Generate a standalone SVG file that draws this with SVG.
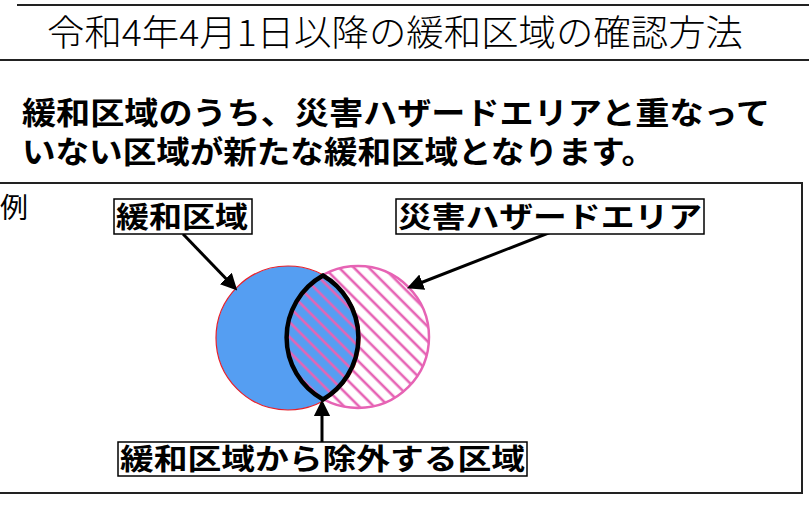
<svg xmlns="http://www.w3.org/2000/svg" width="809" height="509" viewBox="0 0 809 509">
<style>
.jp{font-family:"Noto Sans CJK JP","Noto Sans CJK SC",sans-serif;fill:#000}
.body{font-family:"Liberation Sans","Noto Sans CJK JP",sans-serif;fill:#000;font-weight:700}
.b{font-weight:700}
.lbl{fill:#fff;stroke:#000;stroke-width:1.5}
.rule{stroke:#222;stroke-width:2;fill:none}
.arr{stroke:#000;stroke-width:3;fill:none;marker-end:url(#ah)}
</style>
<defs>
<marker id="ah" viewBox="0 0 10 10" refX="8" refY="5" markerWidth="5.5" markerHeight="5.5" orient="auto" markerUnits="strokeWidth">
<path d="M0,0 L10,5 L0,10 z" fill="#000"/>
</marker>
<pattern id="hatch" patternUnits="userSpaceOnUse" width="10.5" height="10.5" patternTransform="rotate(45)">
<line x1="0" y1="2" x2="10.5" y2="2" stroke="#e663b4" stroke-width="2.6"/>
</pattern>
</defs>
<rect width="809" height="509" fill="#fff"/>
<g id="title">
<line class="rule" x1="17" y1="5" x2="809" y2="5" stroke="#000"/>
<line class="rule" x1="0" y1="60" x2="809" y2="60"/>
<text class="jp" x="47" y="46" font-size="36" font-weight="300" textLength="696" lengthAdjust="spacingAndGlyphs">令和4年4月1日以降の緩和区域の確認方法</text>
</g>
<g id="description">
<text class="body" x="22" y="124" font-size="31" textLength="748" lengthAdjust="spacingAndGlyphs">緩和区域のうち、災害ハザードエリアと重なって</text>
<text class="body" x="22" y="163" font-size="31" textLength="633" lengthAdjust="spacingAndGlyphs">いない区域が新たな緩和区域となります。</text>
</g>
<g id="example-frame">
<rect class="rule" x="-5" y="183" width="807" height="310"/>
<text class="jp" x="0" y="218" font-size="28">例</text>
</g>
<g id="venn">
<circle id="mitigation-circle" cx="288" cy="338" r="72" fill="#559ef2" stroke="#e8202a" stroke-width="1.2"/>
<circle cx="358" cy="337" r="71" fill="url(#hatch)"/>
<circle id="hazard-circle" cx="358" cy="337" r="71" fill="none" stroke="#e663b4" stroke-width="2.5"/>
<path id="excluded-lens" d="M323,275.5 A72,72 0 0 1 323,399.5 A71,71 0 0 1 323,275.5 Z" fill="none" stroke="#000" stroke-width="4.5"/>
</g>
<g id="connectors">
<line class="arr" x1="183" y1="234" x2="235" y2="288"/>
<line class="arr" x1="551" y1="232" x2="410" y2="287"/>
<line class="arr" x1="322" y1="442" x2="322" y2="403"/>
</g>
<g id="label-mitigation">
<rect class="lbl" x="114" y="199" width="138" height="35"/>
<text class="jp b" x="116" y="228" font-size="29" textLength="132" lengthAdjust="spacingAndGlyphs">緩和区域</text>
</g>
<g id="label-hazard">
<rect class="lbl" x="396" y="199" width="308" height="35"/>
<text class="jp b" x="398" y="228" font-size="29" textLength="304" lengthAdjust="spacingAndGlyphs">災害ハザードエリア</text>
</g>
<g id="label-excluded">
<rect class="lbl" x="118" y="442" width="409" height="34"/>
<text class="jp b" x="120" y="470" font-size="29" textLength="405" lengthAdjust="spacingAndGlyphs">緩和区域から除外する区域</text>
</g>
</svg>
